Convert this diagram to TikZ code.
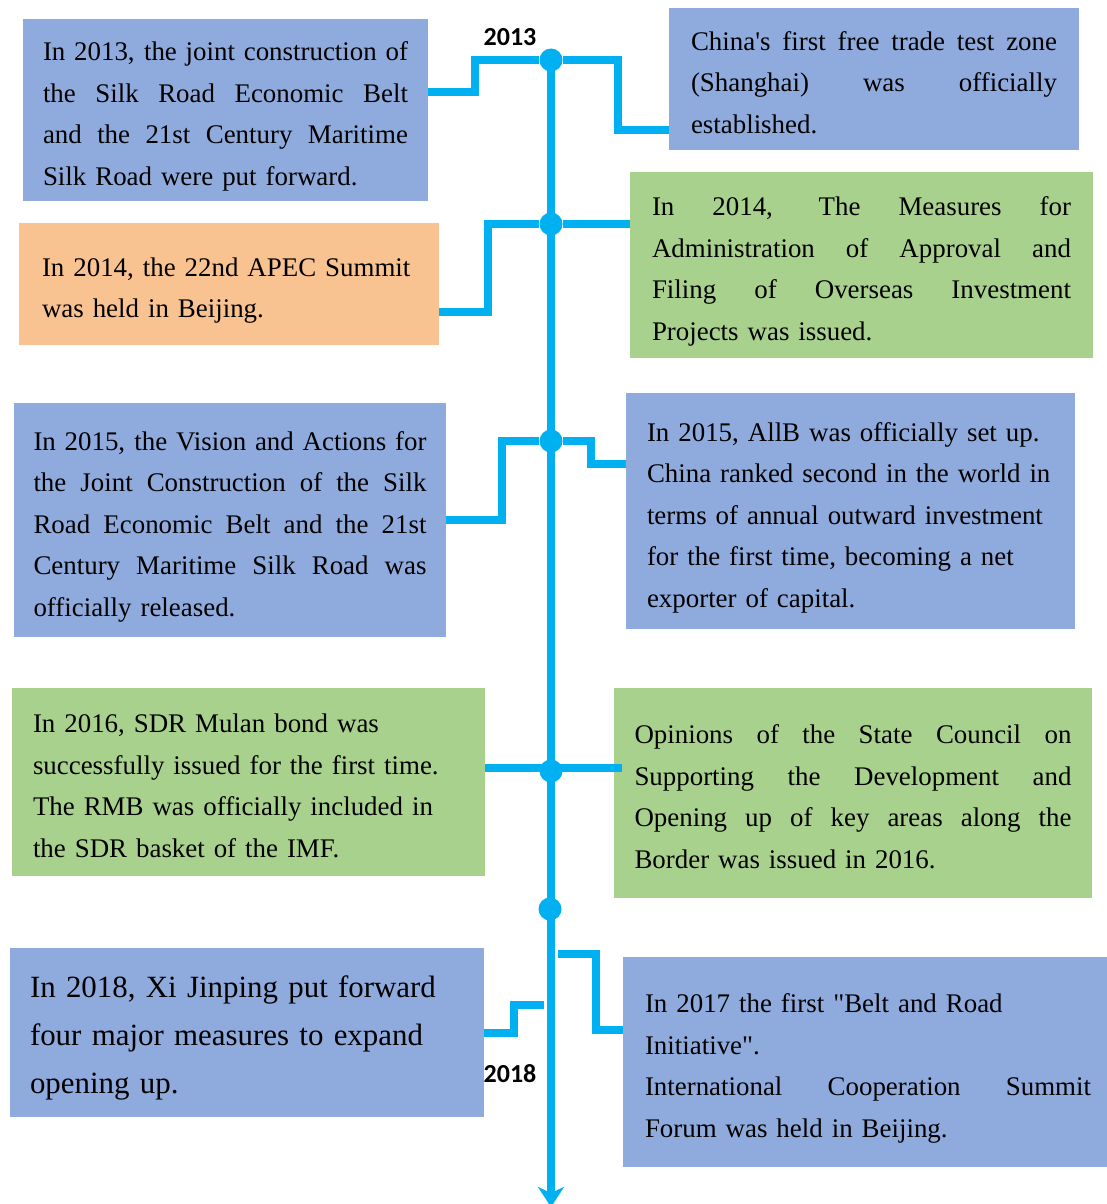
\documentclass[tikz,border=0pt]{standalone}
\usepackage{fontspec}
\setmainfont{Liberation Serif}[Ligatures=TeXOff]
\newfontfamily\yearfont{Carlito}
\usetikzlibrary{arrows.meta}
\setlength{\parindent}{0pt}
\definecolor{tlblue}{HTML}{00B0F0}
\definecolor{boxblue}{HTML}{8FAADC}
\definecolor{boxgreen}{HTML}{A9D18E}
\definecolor{boxorange}{HTML}{F8C291}
\newlength{\linew}
\newcommand{\lstrut}{\vrule height 33pt depth 7pt width 0pt\relax}
\newcommand{\jl}[1]{\leavevmode\hbox to \linew{\lstrut\spaceskip=0.25em plus 1fil\relax #1}}
\newcommand{\rl}[1]{\leavevmode\hbox to \linew{\lstrut#1\hss}}
\tikzset{tw/.code={\pgfkeysalso{text width=#1}\global\linew=#1\relax}}

\begin{document}
\begin{tikzpicture}[x=1pt,y=-1pt]
	\tikzstyle{event}=[rectangle,inner sep=0pt,align=left,font=\fontsize{26.9pt}{41.5pt}\selectfont]
	\tikzstyle{blue}=[event,fill=boxblue]
	\tikzstyle{green}=[event,fill=boxgreen]
	\tikzstyle{orange}=[event,fill=boxorange]
	\tikzstyle{link}=[draw=tlblue,line width=8pt]
	\tikzstyle{dot}=[circle,fill=tlblue,inner sep=0pt,minimum size=23pt]
	\tikzstyle{year}=[font=\yearfont\bfseries\fontsize{26pt}{30pt}\selectfont]
	
	\useasboundingbox (0,0) rectangle (1107,1204);
	
	\node[blue,minimum width=405pt,minimum height=182pt,tw=365pt](b13) at (225.5,110){\jl{In 2013, the joint construction of}\\\jl{the Silk Road Economic Belt}\\\jl{and the 21st Century Maritime}\\\rl{Silk Road were put forward.}};
	\node[blue,minimum width=410pt,minimum height=142pt,tw=366pt](shz) at (874,79){\jl{China's first free trade test zone}\\\jl{(Shanghai) was officially}\\\rl{established.}};
	\node[orange,minimum width=420pt,minimum height=122pt,tw=374pt](apec) at (229,284){\rl{In 2014, the 22nd APEC Summit}\\\rl{was held in Beijing.}};
	\node[green,minimum width=463pt,minimum height=186pt,tw=419pt](odi) at (861.5,265){\jl{In 2014, The Measures for}\\\jl{Administration of Approval and}\\\jl{Filing of Overseas Investment}\\\rl{Projects was issued.}};
	\node[blue,minimum width=432pt,minimum height=234pt,tw=393pt](vision) at (230,520){\jl{In 2015, the Vision and Actions for}\\\jl{the Joint Construction of the Silk}\\\jl{Road Economic Belt and the 21st}\\\jl{Century Maritime Silk Road was}\\\rl{officially released.}};
	\node[blue,minimum width=449pt,minimum height=236pt,tw=407pt](aiib) at (850.5,511){\rl{In 2015, AllB was officially set up.}\\\rl{China ranked second in the world in}\\\rl{terms of annual outward investment}\\\rl{for the first time, becoming a net}\\\rl{exporter of capital.}};
	\node[green,minimum width=473pt,minimum height=188pt,tw=431pt](sdr) at (248.5,782){\rl{In 2016, SDR Mulan bond was}\\\rl{successfully issued for the first time.}\\\rl{The RMB was officially included in}\\\rl{the SDR basket of the IMF.}};
	\node[green,minimum width=478pt,minimum height=210pt,tw=437pt](border) at (853,793){\jl{Opinions of the State Council on}\\\jl{Supporting the Development and}\\\jl{Opening up of key areas along the}\\\rl{Border was issued in 2016.}};
	\node[blue,minimum width=474pt,minimum height=169pt,tw=434pt,font=\fontsize{30.9pt}{48pt}\selectfont](xi) at (247,1032.5){\rl{In 2018, Xi Jinping put forward}\\\rl{four major measures to expand}\\\rl{opening up.}};
	\node[blue,minimum width=490pt,minimum height=210pt,tw=446pt](bri) at (868,1062){\rl{In 2017 the first "Belt and Road}\\\rl{Initiative".}\\\jl{International Cooperation Summit}\\\rl{Forum was held in Beijing.}};
	
	\node[dot](d13) at (551,60){};
	\node[dot](d14) at (551,224){};
	\node[dot](d15) at (551,441){};
	\node[dot](d16) at (551,771){};
	\node[dot](d17) at (550,909){};
	\coordinate (tend) at (551,1207);
	\coordinate (j17) at (558,954);
	\coordinate (j18) at (544,1005);
	
	\draw[link,-{Stealth[length=20pt,width=26pt,inset=6pt]}] (d13.center) -- (tend);
	
	\draw[link] ([yshift=18pt]b13.east) -| (475,60) -- (d13);
	\draw[link] (d13) -| (618,130) -- ([yshift=-51pt]shz.west);
	\draw[link] (d14) -| (488,312) -- ([yshift=-28pt]apec.east);
	\draw[link] (d14) -- ([yshift=41pt]odi.west);
	\draw[link] (d15) -| (502,520) -- (vision.east);
	\draw[link] (d15) -| (591,464) -- ([yshift=47pt]aiib.west);
	\draw[link] ([yshift=14pt]sdr.east) -- ([yshift=25pt,xshift=8pt]border.west);
	\draw[link] (xi.east) -| (514,1005) -- (j18);
	\draw[link] (j17) -| (596,1030) -- ([yshift=32pt]bri.west);
	
	\node[year](y13) at (510,37){2013};
	\node[year](y18) at (510,1074){2018};
\end{tikzpicture}
\end{document}
